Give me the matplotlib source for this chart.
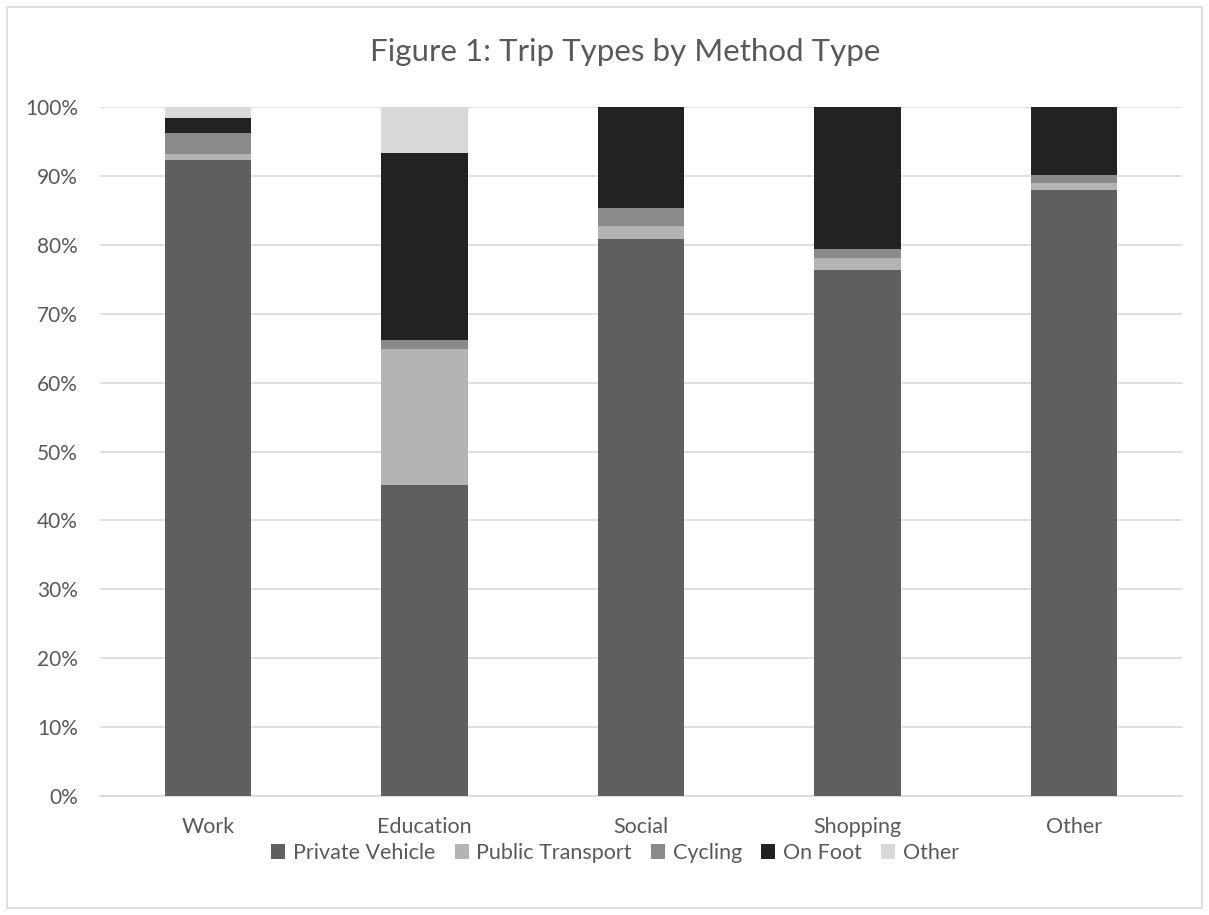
import matplotlib.pyplot as plt
from matplotlib.patches import Rectangle
from matplotlib.ticker import FuncFormatter
import numpy as np

plt.rcParams['font.family'] = ['Lato', 'DejaVu Sans']

# trip purposes and share of trips by method (%)
trip_types = ["Work", "Education", "Social", "Shopping", "Other"]
private_vehicle = [92.35, 45.2, 80.8, 76.4, 88.0]
public_transport = [0.8, 19.7, 1.9, 1.7, 0.9]
cycling = [3.05, 1.3, 2.6, 1.3, 1.2]
on_foot = [2.25, 27.1, 14.7, 20.6, 9.9]
other = [1.55, 6.7, 0.0, 0.0, 0.0]

methods = ["Private Vehicle", "Public Transport", "Cycling", "On Foot", "Other"]
colours = ["#5f5f5f", "#b4b4b4", "#8a8a8a", "#222222", "#d9d9d9"]
series = [private_vehicle, public_transport, cycling, on_foot, other]

fig = plt.figure(figsize=(12.09, 9.15), dpi=100)
# light frame round the whole chart
fig.patches.append(Rectangle((7 / 1209, 7 / 915), 1195 / 1209, 901 / 915,
                             transform=fig.transFigure, fill=False,
                             edgecolor="#d9d9d9", linewidth=1.2))

ax = fig.add_axes([100 / 1209, 119 / 915, 1082 / 1209, 689 / 915])
x = np.arange(len(trip_types))
bottom = np.zeros(len(trip_types))
for name, vals, col in zip(methods, series, colours):
    ax.bar(x, vals, width=0.4, bottom=bottom, color=col, label=name, zorder=3)
    bottom += np.array(vals)

ax.set_xlim(-0.5, len(trip_types) - 0.5)
ax.set_ylim(0, 100)
ax.set_yticks(np.arange(0, 101, 10))
ax.yaxis.set_major_formatter(FuncFormatter(lambda v, p: f"{v:.0f}%"))
ax.set_xticks(x)
ax.set_xticklabels(trip_types)
ax.yaxis.grid(True, color="#d9d9d9", linewidth=1.2, zorder=0)
for s in ["top", "right", "left"]:
    ax.spines[s].set_visible(False)
ax.spines["bottom"].set_color("#d9d9d9")
ax.spines["bottom"].set_linewidth(1.2)
ax.tick_params(axis="both", length=0, labelcolor="#595959")
ax.tick_params(axis="y", pad=16, labelsize=15)
ax.tick_params(axis="x", pad=15, labelsize=15.5)

fig.text(625 / 1209, 1 - 52 / 915, "Figure 1: Trip Types by Method Type",
         ha="center", va="center", fontsize=22.5, color="#595959")

fig.legend(*ax.get_legend_handles_labels(), loc="center",
           bbox_to_anchor=(615 / 1209, 1 - 853 / 915), ncol=5, frameon=False,
           fontsize=15.5, labelcolor="#595959", handlelength=0.65, handleheight=0.65,
           handletextpad=0.35, columnspacing=0.9)

fig.savefig("out.png", dpi=100)
